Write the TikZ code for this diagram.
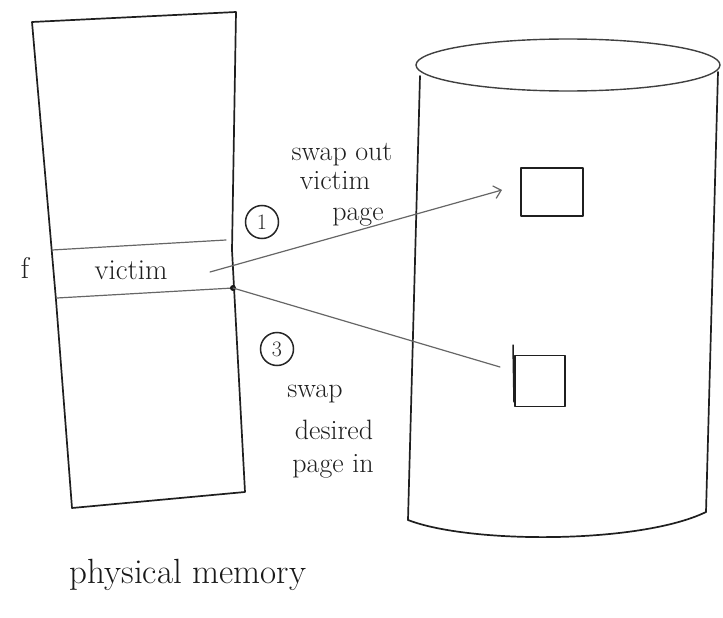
\documentclass[tikz,border=0pt]{standalone}
\usetikzlibrary{arrows.meta}
\begin{document}
\begin{tikzpicture}[x=1pt,y=-1pt,
  ink/.style={line width=1.7pt, black!88, line join=round, line cap=round},
  faint/.style={line width=1.2pt, black!60, line cap=round},
  hand/.style={inner sep=0pt, text=black!88, font=\fontsize{28}{30}\selectfont},
  bighand/.style={inner sep=0pt, text=black!90, font=\fontsize{35}{38}\selectfont},
  stepmark/.style={draw, circle, line width=1.5pt, black!85, minimum size=33pt, inner sep=0pt, font=\fontsize{22}{24}\selectfont},
  pagebox/.style={ink, line width=1.5pt}
]
\useasboundingbox (0,0) rectangle (723,618);

% physical memory frame
\draw[ink] (32,22) -- (236,12) -- (232,250) -- (245,492) -- (72,508) -- (56,300) -- cycle;
% victim frame band
\coordinate (bandTL) at (52,250);
\coordinate (bandTR) at (226,240);
\coordinate (bandBL) at (57,298);
\coordinate (bandBR) at (233,288);
\draw[faint] (bandTL) -- (bandTR);
\draw[faint] (bandBL) -- (bandBR);
\node[hand, font=\fontsize{30}{32}\selectfont] (f) at (25,268) {f};
\node[hand, font=\fontsize{29}{31}\selectfont] (victim) at (131,270) {victim};
\fill[black!90] (bandBR) circle (3pt);

% backing store cylinder
\draw[ink, line width=1.4pt, black!75] (568,65) ellipse [x radius=152, y radius=26];
\draw[ink] (420,76) -- (408,520);
\draw[ink] (718,72) -- (706,512);
\draw[ink] (408,520) .. controls (470,544) and (640,544) .. (706,512);

% pages in backing store
\node[draw, pagebox, minimum width=62pt, minimum height=48pt] (page1) at (552,192) {};
\node[draw, pagebox, minimum width=50pt, minimum height=51pt] (page2) at (540,381) {};
\draw[pagebox] (513,345) -- (514,402);

% connectors
\coordinate (outstart) at (210,272);
\coordinate (outend) at (502,190);
\coordinate (inend) at (500,367);
\draw[faint, -{Straight Barb[length=7pt,width=13pt]}] (outstart) -- (outend);
\draw[faint] (bandBR) -- (inend);

% step labels
\node[stepmark] (s1) at (262,222) {1};
\node[hand] (s1a) at (342,155) {swap out};
\node[hand] (s1b) at (335,181) {victim};
\node[hand] (s1c) at (358,217) {page};

\node[stepmark] (s3) at (277,349) {3};
\node[hand] (s3a) at (315,394) {swap};
\node[hand] (s3b) at (334,430) {desired};
\node[hand] (s3c) at (333,466) {page in};

\node[bighand] (pm) at (188,575) {physical memory};
\end{tikzpicture}
\end{document}
